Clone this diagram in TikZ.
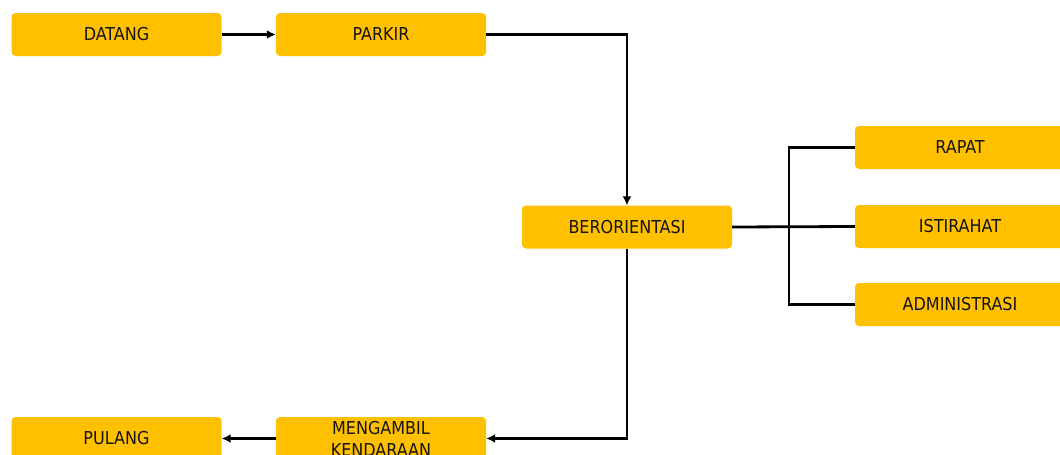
\documentclass[tikz,border=0pt]{standalone}
\usepackage{fontspec}
\setmainfont{DejaVu Sans Condensed}
\usetikzlibrary{arrows.meta}
\definecolor{boxfill}{HTML}{FFC000}
\definecolor{boxtext}{HTML}{141414}
\begin{document}
\begin{tikzpicture}[x=1pt,y=-1pt,
  stepbox/.style={fill=boxfill,rounded corners=4pt,minimum width=210pt,minimum height=43pt,
    inner sep=0pt,font=\fontsize{17.8}{22}\selectfont,text=boxtext,align=center},
  link/.style={line width=2.8pt,draw=black},
  flow/.style={link,-{Latex[length=9pt,width=9pt]}}]
\useasboundingbox (0,0) rectangle (1060,455);
\node[stepbox] (datang) at (116.5,34.5) {DATANG};
\node[stepbox] (parkir) at (381,34.5) {PARKIR};
\node[stepbox] (orient) at (627,227) {BERORIENTASI};
\node[stepbox] (rapat) at (960,147.5) {RAPAT};
\node[stepbox] (istirahat) at (960,226.5) {ISTIRAHAT};
\node[stepbox] (admin) at (960,304.5) {ADMINISTRASI};
\node[stepbox] (ambil) at (381,438.5) {MENGAMBIL\\KENDARAAN};
\node[stepbox] (pulang) at (116.5,438.5) {PULANG};
\coordinate (bus) at (789,227);
\draw[flow] (datang) -- (parkir);
\draw[flow] (parkir.east) -| (orient.north);
\draw[link] (orient.east) -- (istirahat.west);
\draw[link] (rapat.west) -- (rapat.west -| bus) -- (admin.west -| bus) -- (admin.west);
\draw[flow] (orient.south) |- (ambil.east);
\draw[flow] (ambil) -- (pulang);
\end{tikzpicture}
\end{document}
